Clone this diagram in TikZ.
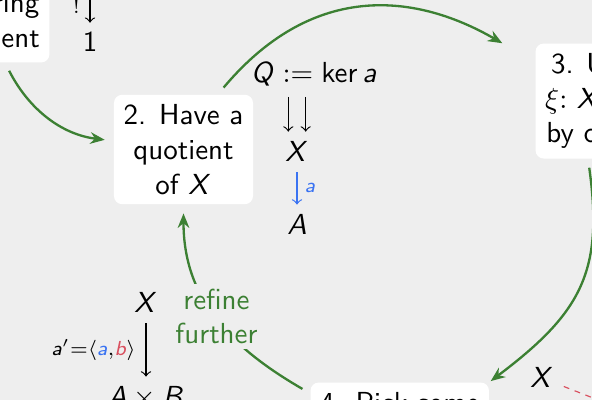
\documentclass[tikz,border=0pt]{standalone}
\usetikzlibrary{arrows.meta}
\DeclareMathAlphabet{\mathsfit}{OT1}{cmss}{m}{sl}
\definecolor{bggrey}{HTML}{EEEEEE}
\definecolor{stepgreen}{HTML}{3C8033}
\definecolor{mapblue}{HTML}{3A73F2}
\definecolor{mapred}{HTML}{D9505F}
\tikzset{
  stepbox/.style={fill=white, rounded corners=2.8pt, align=center, font=\sffamily},
  cycle/.style={-{Stealth[length=5pt,width=4pt]}, thick, stepgreen, shorten <=3pt, shorten >=3pt},
  map/.style={-to, thin},
}
\begin{document}
\begin{tikzpicture}[x=0.345pt, y=0.345pt]
  \fill[bggrey] (0,0) rectangle (592,-400);
  \useasboundingbox (0,0) rectangle (592,-400);
  \clip (0,0) rectangle (592,-400);

  % steps of the loop
  \node[stepbox, anchor=south east] (S1) at (50,-63) {1. Take\\a boring\\quotient};
  \node[stepbox] (S2) at (183.5,-149.5) {2. Have a\\quotient\\of $\mathsfit{X}$};
  \node[stepbox, anchor=north west] (S3) at (535,-43) {3. Use a\\$\xi\colon\,\mathsfit{X}\to 2$\\by choice};
  \node[stepbox, anchor=north west] (S4) at (310,-382) {4. Pick some\\other map\\$\mathsfit{b}\colon \mathsfit{X}\to\mathsfit{B}$};

  % little diagrams
  \coordinate (T0) at (90,10);
  \node[anchor=base] (One) at (90,-52) {$\mathsf{1}$};
  \draw[map] (T0) -- (One) node[midway, left] {$\scriptstyle !$};

  \node[anchor=base] (Q) at (314,-83) {$\mathsfit{Q} \mathrel{:=} \mathsf{ker}\,\mathsfit{a}$};
  \node[anchor=base] (X) at (297,-162) {$\mathsfit{X}$};
  \node[anchor=base] (A) at (297,-235) {$\mathsfit{A}$};
  \draw[map] ([xshift=-3pt]X.north |- Q.south) -- ([xshift=-3pt]X.north);
  \draw[map] ([xshift=3pt]X.north |- Q.south) -- ([xshift=3pt]X.north);
  \draw[map, mapblue] (X) -- (A) node[midway, right, inner sep=2.5pt] {$\scriptstyle\mathsfit{a}$};

  \node[anchor=base] (X2) at (146,-313) {$\mathsfit{X}$};
  \node[anchor=base] (AB) at (146,-407) {$\mathsfit{A}\times\mathsfit{B}$};
  \draw[map] (X2) -- (AB) node[midway, left] {$\scriptstyle \mathsfit{a}'=\langle{\color{mapblue}\mathsfit{a}},{\color{mapred}\mathsfit{b}}\rangle$};

  \node[anchor=base] (X3) at (542,-388) {$\mathsfit{X}$};
  \coordinate (Xi) at (700,-440);
  \draw[map, mapred, dash pattern=on 2pt off 2pt] (X3) -- (Xi);

  % the loop
  \draw[cycle] (S1.-75) to[out=-63, in=173] (S2);
  \draw[cycle, shorten >=13pt, looseness=1.15] (S2.58) to[out=50, in=150] (S3);
  \draw[cycle, shorten >=0.5pt, looseness=1.2] (S3.-104) to[out=-82, in=37] (S4.north east);
  \draw[cycle, looseness=1.05] (S4.154) to[out=150, in=-90] node[pos=0.5, fill=bggrey, inner sep=1.5pt, text=stepgreen, align=center, font=\sffamily] {refine\\further} (S2);
\end{tikzpicture}
\end{document}
